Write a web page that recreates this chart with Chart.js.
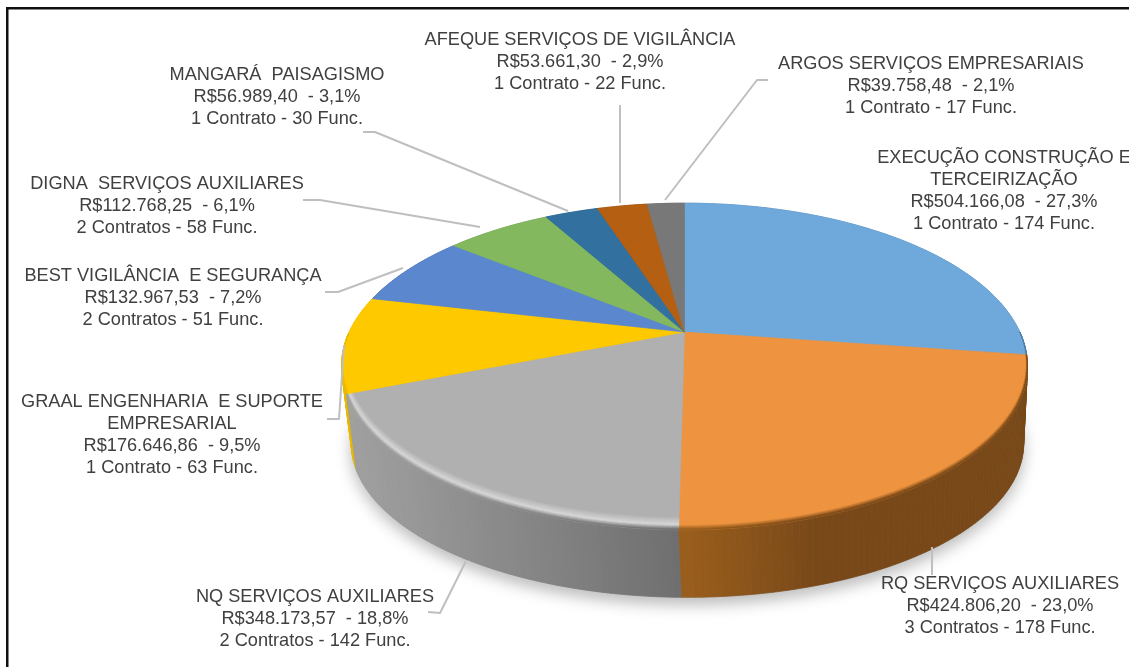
<!DOCTYPE html>
<html><head><meta charset="utf-8">
<style>
html,body{margin:0;padding:0;background:#fff;overflow:hidden}
#wrap{position:absolute;left:0;top:0;width:1129px;height:667px}
</style>
<script src="https://cdn.jsdelivr.net/npm/chart.js@4/dist/chart.umd.min.js"></script>
</head><body>
<div id="wrap"><canvas id="c" width="1129" height="667"></canvas></div>
<script>
const names = [
  ["EXECUÇÃO CONSTRUÇÃO E","TERCEIRIZAÇÃO"],
  ["RQ SERVIÇOS AUXILIARES"],
  ["NQ SERVIÇOS AUXILIARES"],
  ["GRAAL ENGENHARIA  E SUPORTE","EMPRESARIAL"],
  ["BEST VIGILÂNCIA  E SEGURANÇA"],
  ["DIGNA  SERVIÇOS AUXILIARES"],
  ["MANGARÁ  PAISAGISMO"],
  ["AFEQUE SERVIÇOS DE VIGILÂNCIA"],
  ["ARGOS SERVIÇOS EMPRESARIAIS"]
];
const values = [504166.08,424806.20,348173.57,176646.86,132967.53,112768.25,56989.40,53661.30,39758.48];
const valueText = ["R$504.166,08  - 27,3%","R$424.806,20  - 23,0%","R$348.173,57  - 18,8%","R$176.646,86  - 9,5%","R$132.967,53  - 7,2%","R$112.768,25  - 6,1%","R$56.989,40  - 3,1%","R$53.661,30  - 2,9%","R$39.758,48  - 2,1%"];
const contractText = ["1 Contrato - 174 Func.","3 Contratos - 178 Func.","2 Contratos - 142 Func.","1 Contrato - 63 Func.","2 Contratos - 51 Func.","2 Contratos - 58 Func.","1 Contrato - 30 Func.","1 Contrato - 22 Func.","1 Contrato - 17 Func."];
const topColors = ["#6FA9DB","#EE9440","#B0B0B0","#FFC900","#5A87CE","#84B85E","#31709F","#B45F11","#787878"];
const wallColors = ["#4C7CA6","#7A4A18","#8E8E8E","#E8B800","#44669C","#628C46","#255477","#864710","#5A5A5A"];
const labelAnchors = [[1004,158],[1000,584],[315,597],[172,402],[173,276],[167,184],[277,75],[580,40],[931,64]];
const leaders = [
  [],
  [[932,547],[932,575]],
  [[428,612],[440,613],[466,561]],
  [[327,419],[339,419],[344,345]],
  [[325,292],[338,292],[403,268]],
  [[303,200],[320,200],[480,227]],
  [[363,132],[375,132],[568,211]],
  [[620,105],[620,203]],
  [[665,200],[757,80],[768,80]]
];

const hex = h => [1,3,5].map(i => parseInt(h.substr(i,2),16));
const toHex = a => "#"+a.map(v=>Math.round(v).toString(16).padStart(2,"0")).join("");
const mix = (a,b,t) => { const A=hex(a),B=hex(b); return toHex(A.map((v,i)=>v+(B[i]-v)*t)); };

// Perspective view of the library's arc geometry
const K = -0.211, AY = 0.47, BX = 1.01;
function proj(el, ang, rr){
  const u = Math.cos(ang)*rr, v = Math.sin(ang)*rr, w = 1 + K*v, R = el.outerRadius;
  return [el.x + BX*R*u/w, el.y + AY*R*v/w];
}
function lower(el, p){
  // lower disc of the extruded pie
  const ecY = el.y + 34;
  return [el.x + 3 + (p[0]-el.x)*0.98, ecY + 77 + (p[1]-ecY)*0.942];
}
function poly(ctx, pts, fill){
  ctx.beginPath(); pts.forEach((p,i)=> i?ctx.lineTo(p[0],p[1]):ctx.moveTo(p[0],p[1])); ctx.closePath();
  ctx.fillStyle = fill; ctx.fill();
  ctx.strokeStyle = fill; ctx.lineWidth = .6; ctx.stroke();
}
function wallShade(i, x, el){
  // horizontal light falloff along the side of the pie
  const n = (x - el.x)/el.outerRadius;
  if (i === 2) return mix("#A0A0A0","#6E6E6E", Math.min(1,Math.max(0,n+1)));
  if (i === 1) return mix("#9A5E1C","#784818",Math.min(1,Math.max(0,n/.4)));
  return wallColors[i];
}
const pie3d = {
  id:"pie3d",
  beforeDatasetsDraw(chart){
    const ctx = chart.ctx, arcs = chart.getDatasetMeta(0).data, step = Math.PI/180, TAU = Math.PI*2;
    ctx.save();
    const el0 = arcs[0];
    // silhouette with soft shadow
    ctx.save();
    ctx.shadowColor = "rgba(0,0,0,.28)"; ctx.shadowBlur = 16; ctx.shadowOffsetY = 7;
    const sil = [];
    for (let a=0;a<=TAU;a+=step) sil.push(lower(el0,proj(el0,a,1)));
    poly(ctx, sil, "#8E8E8E");
    ctx.restore();
    // side wall, back to front
    const strips = [];
    arcs.forEach((el,i)=>{
      for (let a=el.startAngle; a<el.endAngle; a+=step){
        const b = Math.min(a+step, el.endAngle);
        strips.push({i,el,a,b,depth:Math.sin((a+b)/2)});
      }
    });
    strips.sort((p,q)=>p.depth-q.depth);
    strips.forEach(s=>{
      const p1=proj(s.el,s.a,1), p2=proj(s.el,s.b,1);
      const q1=lower(s.el,p1), q2=lower(s.el,p2);
      poly(ctx,[p1,p2,q2,q1], wallShade(s.i,(p1[0]+p2[0])/2,s.el));
    });
    // top face
    arcs.forEach((el,i)=>{
      const pts=[[el.x,el.y]];
      for (let a=el.startAngle; a<el.endAngle; a+=step/2) pts.push(proj(el,a,1));
      pts.push(proj(el,el.endAngle,1));
      poly(ctx,pts,topColors[i]);
    });
    // bevel along the near rim
    arcs.forEach((el,i)=>{
      for (let a=el.startAngle; a<el.endAngle; a+=step){
        const b=Math.min(a+step,el.endAngle), v=Math.sin((a+b)/2);
        if (v<=0) continue;
        const inner = 1-0.05*v, mid = 1-0.018*v;
        const hi = i===2 ? "#D6D6D6" : topColors[i];
        const edge = wallShade(i,proj(el,a,1)[0],el);
        const n=6;
        for(let k=0;k<n;k++){
          const r0=inner+(mid-inner)*k/n, r1=inner+(mid-inner)*(k+1)/n;
          poly(ctx,[proj(el,a,r0),proj(el,b,r0),proj(el,b,r1),proj(el,a,r1)],mix(topColors[i],hi,(k+1)/n));
        }
        for(let k=0;k<n;k++){
          const r0=mid+(1-mid)*k/n, r1=mid+(1-mid)*(k+1)/n;
          poly(ctx,[proj(el,a,r0),proj(el,b,r0),proj(el,b,r1),proj(el,a,r1)],mix(hi,edge,(k+1)/n));
        }
      }
    });
    ctx.restore();
    return false;
  },
  afterDraw(chart){
    const ctx = chart.ctx;
    ctx.save();
    ctx.strokeStyle="#BFBFBF"; ctx.lineWidth=2; ctx.lineJoin="round";
    leaders.forEach(l=>{
      if(!l.length) return;
      ctx.beginPath(); l.forEach((p,i)=> i?ctx.lineTo(p[0],p[1]):ctx.moveTo(p[0],p[1])); ctx.stroke();
    });
    ctx.fillStyle="#404040"; ctx.font='18.2px "Liberation Sans", Arial, sans-serif';
    ctx.textAlign="center"; ctx.textBaseline="middle";
    names.forEach((nm,i)=>{
      const lines=[...nm,valueText[i],contractText[i]];
      lines.forEach((t,j)=>ctx.fillText(t,labelAnchors[i][0],labelAnchors[i][1]+j*22));
    });
    // picture frame
    ctx.fillStyle="#111";
    ctx.fillRect(6,7,1123,2.5);
    ctx.fillRect(6,7,2.5,660);
    ctx.restore();
  }
};
Chart.defaults.animation=false;
new Chart(document.getElementById("c"),{
  type:"pie",
  data:{labels:names.map(n=>n.join(" ")),datasets:[{data:values,backgroundColor:topColors,borderWidth:0}]},
  options:{
    responsive:false,animation:false,
    layout:{padding:{left:240,right:0,top:0,bottom:3}},
    plugins:{legend:{display:false},tooltip:{enabled:false}}
  },
  plugins:[pie3d]
});
</script>
</body></html>
